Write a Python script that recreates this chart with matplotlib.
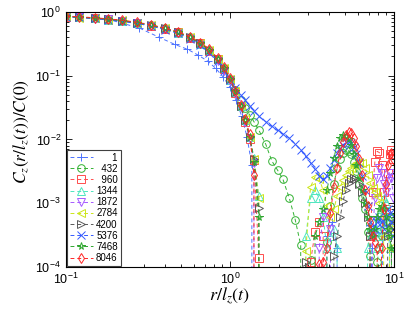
"""
plot.py

Correlation function C_z(r/l_z(t))/C(0) for several times, log-log axes.
"""

import numpy as np
import matplotlib
matplotlib.use("Agg")
import matplotlib.pyplot as plt

plt.rcParams["font.family"] = ["Liberation Sans", "DejaVu Sans"]
plt.rcParams["mathtext.fontset"] = "stix"

## DATA ##
# --------------------------------------------------------------------------- #
# negative values (-1) lie below the log axis, the dashed line drops off the plot

# t = 1 has its own, coarser sampling
r_t1 = [0.10, 0.19, 0.28, 0.37, 0.46, 0.55, 0.64, 0.73, 0.82, 0.91,
        1.00, 1.09, 1.18, 1.27, 1.36, 1.45, 3.90, 4.20, 4.50, 4.80,
        7.30, 7.60, 7.90, 8.20, 8.50, 8.80]
c_t1 = [0.85, 0.74, 0.56, 0.40, 0.31, 0.26, 0.21, 0.17, 0.13, 0.095,
        0.066, 0.041, 0.023, 0.011, 0.0039, -1, 0.0003, 0.0005, 0.0002, -1,
        0.0002, 0.0004, 0.0006, 0.0005, 0.0003, -1]

# sampling shared by the later times
r_grid = [0.10, 0.12, 0.15, 0.18, 0.22, 0.27, 0.33, 0.40, 0.48, 0.57,
          0.66, 0.75, 0.84, 0.92, 1.00, 1.08, 1.16, 1.24, 1.32, 1.40,
          1.50, 1.65, 1.80, 1.95, 2.10, 2.30, 2.50, 2.70, 2.90, 3.10,
          3.30, 3.50, 3.70, 3.90, 4.10, 4.30, 4.50, 4.70, 4.90, 5.10,
          5.30, 5.50, 5.70, 5.90, 6.15, 6.40, 6.65, 6.90, 7.15, 7.40,
          7.65, 7.90, 8.15, 8.40, 8.65, 8.90, 9.15, 9.40, 9.65, 9.90]

c_432 = [0.86, 0.82, 0.80, 0.76, 0.73, 0.67, 0.62, 0.55, 0.47, 0.40,
         0.32, 0.25, 0.18, 0.13, 0.090, 0.060, 0.041, 0.031, 0.024, 0.019,
         0.014, 0.0085, 0.0046, 0.0033, 0.0024, 0.0012, 0.00055, 0.00022, -1, 0.00013,
         -1, -1, -1, 0.00025, 0.0009, 0.0020, 0.0035, 0.0050, 0.0062, 0.0068,
         0.0066, 0.0058, 0.0045, 0.0032, 0.0020, 0.0012, 0.0008, 0.00035, 0.00015, -1,
         -1, 0.00012, 0.0002, 0.0003, 0.0004, 0.0005, 0.00055, 0.0006, 0.0006, 0.00058]

c_960 = [0.84, 0.83, 0.79, 0.77, 0.72, 0.68, 0.61, 0.54, 0.48, 0.39,
         0.32, 0.24, 0.18, 0.125, 0.085, 0.054, 0.033, 0.019, 0.010, 0.0048,
         0.00014, -1, -1, -1, -1, -1, -1, -1, -1, 0.00012,
         0.00035, 0.0005, 0.0003, -1, -1, -1, -1, -1, -1, -1,
         -1, -1, -1, -1, -1, -1, -1, -1, 0.0003, 0.0015,
         0.0045, 0.0065, 0.0062, 0.0040, 0.0015, 0.0008, 0.0030, 0.0060, 0.0068, 0.0050]

c_1344 = [0.85, 0.82, 0.80, 0.76, 0.72, 0.67, 0.62, 0.55, 0.47, 0.40,
          0.31, 0.25, 0.18, 0.13, 0.087, 0.055, 0.033, 0.020, 0.011, 0.0052,
          0.0013, -1, -1, -1, -1, -1, -1, -1, 0.0003, 0.0012,
          0.0016, 0.0012, 0.0006, 0.0002, 0.0003, 0.0004, 0.0002, -1, -1, -1,
          -1, -1, -1, -1, -1, -1, -1, 0.0002, 0.0004, 0.0005,
          0.0004, 0.0002, 0.0003, 0.0008, 0.0012, 0.0010, 0.0005, 0.0002, -1, -1]

c_1872 = [0.83, 0.83, 0.78, 0.77, 0.73, 0.67, 0.61, 0.54, 0.47, 0.39,
          0.31, 0.24, 0.17, 0.12, 0.084, 0.053, 0.032, 0.019, 0.010, 0.0043,
          -1, -1, -1, -1, -1, -1, -1, -1, -1, -1,
          -1, 0.0002, 0.0006, 0.0007, 0.0004, -1, -1, -1, -1, -1,
          -1, -1, -1, -1, -1, -1, -1, -1, -1, 0.0003,
          0.0012, 0.0025, 0.0035, 0.0030, 0.0020, 0.0015, 0.0022, 0.0030, 0.0025, 0.0012]

c_2784 = [0.86, 0.81, 0.81, 0.76, 0.74, 0.68, 0.62, 0.56, 0.48, 0.40,
          0.32, 0.25, 0.18, 0.13, 0.089, 0.057, 0.035, 0.021, 0.011, 0.0050,
          0.0012, -1, -1, -1, -1, -1, -1, -1, 0.00018, 0.0018,
          0.0026, 0.0024, 0.0016, 0.0009, 0.0006, 0.0008, 0.0013, 0.0018, 0.0023, 0.0028,
          0.0032, 0.0036, 0.0040, 0.0043, 0.0044, 0.0042, 0.0036, 0.0028, 0.0021, 0.0017,
          0.0015, 0.0013, 0.0010, 0.0006, 0.0003, -1, -1, 0.0002, 0.0004, 0.0005]

c_4200 = [0.85, 0.83, 0.80, 0.77, 0.73, 0.68, 0.62, 0.55, 0.48, 0.40,
          0.32, 0.25, 0.18, 0.13, 0.088, 0.056, 0.034, 0.020, 0.011, 0.0050,
          0.00085, -1, -1, -1, -1, -1, -1, -1, 0.00012, -1,
          -1, -1, -1, -1, -1, 0.00015, 0.0003, 0.0006, 0.0011, 0.0016,
          0.0021, 0.0024, 0.0025, 0.0024, 0.0020, 0.0015, 0.0010, 0.0006, 0.0003, -1,
          -1, -1, -1, -1, -1, -1, 0.0003, 0.0005, 0.0004, -1]

c_5376 = [0.84, 0.82, 0.79, 0.75, 0.71, 0.66, 0.60, 0.53, 0.46, 0.38,
          0.30, 0.23, 0.17, 0.12, 0.085, 0.065, 0.050, 0.041, 0.034, 0.028,
          0.023, 0.019, 0.016, 0.0138, 0.0122, 0.0105, 0.0085, 0.0068, 0.0054, 0.0043,
          0.0034, 0.0027, 0.0024, 0.0027, 0.0036, 0.0048, 0.0061, 0.0073, 0.0083, 0.0090,
          0.0092, 0.0087, 0.0075, 0.0060, 0.0042, 0.0027, 0.0016, 0.0009, 0.0005, 0.00035,
          0.0004, 0.0005, 0.0006, 0.0005, 0.0004, 0.0006, 0.0008, 0.0007, 0.0005, 0.0003]

c_7468 = [0.85, 0.83, 0.80, 0.77, 0.73, 0.68, 0.62, 0.55, 0.48, 0.40,
          0.32, 0.25, 0.18, 0.13, 0.089, 0.057, 0.034, 0.020, 0.011, 0.0045,
          0.0006, -1, -1, -1, -1, -1, -1, -1, -1, -1,
          0.0003, 0.0005, 0.0008, 0.0016, 0.0030, 0.0052, 0.0080, 0.0105, 0.0118, 0.0115,
          0.0102, 0.0082, 0.0060, 0.0040, 0.0025, 0.0016, 0.0010, 0.0006, 0.0004, 0.0003,
          0.0004, 0.0006, 0.0008, 0.0009, 0.0008, 0.0006, 0.0004, 0.0003, 0.0002, -1]

c_8046 = [0.86, 0.84, 0.81, 0.78, 0.74, 0.69, 0.63, 0.56, 0.49, 0.41,
          0.33, 0.26, 0.19, 0.135, 0.091, 0.058, 0.035, 0.021, 0.012, 0.0028,
          -1, -1, -1, -1, -1, -1, -1, -1, -1, -1,
          -1, 0.00011, 0.00012, 0.0002, 0.0007, 0.0018, 0.0036, 0.0062, 0.0092, 0.0118,
          0.0130, 0.0125, 0.0105, 0.0080, 0.0050, 0.0028, 0.0016, 0.0009, 0.0005, 0.0003,
          0.00025, 0.0002, -1, 0.0002, 0.0008, 0.0020, 0.0040, 0.0058, 0.0062, 0.0050]

times = ["1", "432", "960", "1344", "1872", "2784", "4200", "5376", "7468", "8046"]
# --------------------------------------------------------------------------- #

series = [(r_t1, c_t1), (r_grid, c_432), (r_grid, c_960), (r_grid, c_1344),
          (r_grid, c_1872), (r_grid, c_2784), (r_grid, c_4200), (r_grid, c_5376),
          (r_grid, c_7468), (r_grid, c_8046)]

colors = ["#4d73ff", "#33b233", "#ff4d4d", "#4de6bf", "#a659ff",
          "#cce61a", "#595959", "#3359ff", "#2ea62e", "#ff2626"]
markers = ["+", "o", "s", "^", "v", "<", ">", "x", "*", "d"]


def main():
    fig = plt.figure(figsize=(4.07, 3.14), dpi=100)
    ax = fig.add_axes([0.162, 0.150, 0.806, 0.812])

    for (r, c), t, col, m in zip(series, times, colors, markers):
        # right-align the legend numbers with figure spaces
        label = "\u2007" * (4 - len(t)) + t
        ax.plot(r, c, linestyle=(0, (4, 3)), linewidth=0.7, color=col,
                marker=m, markersize=5.5, markeredgewidth=0.7,
                markerfacecolor="none", label=label)

    ax.set_xscale("log")
    ax.set_yscale("log", nonpositive="clip")
    ax.set_xlim(0.1, 10)
    ax.set_ylim(1e-4, 1)

    ax.tick_params(which="both", direction="in", top=True, right=True,
                   labelsize=9, width=0.6)
    ax.tick_params(which="major", length=4)
    ax.tick_params(which="minor", length=2)
    for spine in ax.spines.values():
        spine.set_linewidth(0.8)

    ax.set_xlabel(r"$r/l_z(t)$", fontsize=13)
    ax.set_ylabel(r"$C_z(r/l_z(t))/C(0)$", fontsize=12.5)
    ax.xaxis.set_label_coords(0.5, -0.075)
    ax.yaxis.set_label_coords(-0.105, 0.53)

    leg = ax.legend(loc="lower left", fontsize=7, labelspacing=0.12,
                    handlelength=2.4, handletextpad=0.3, borderpad=0.3,
                    borderaxespad=0.1, fancybox=False, framealpha=1)
    leg.get_frame().set_edgecolor("#404040")
    leg.get_frame().set_linewidth(0.8)

    fig.savefig("out.png", dpi=100)


if __name__ == "__main__":
    main()
